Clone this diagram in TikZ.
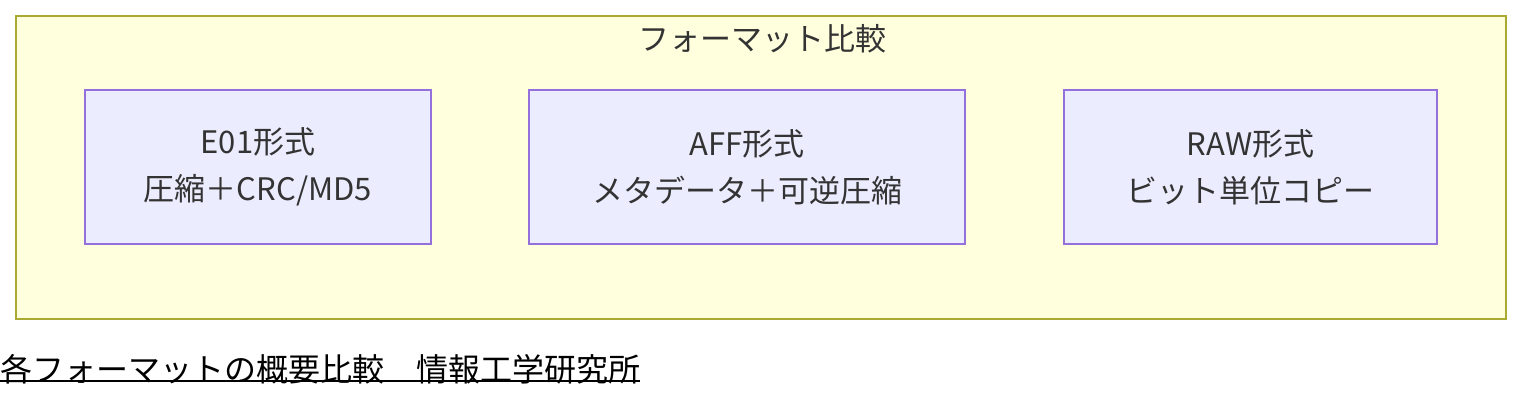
\documentclass[tikz,border=0pt]{standalone}
\usepackage{fontspec}
\setmainfont{Noto Sans CJK JP}
\usepackage{tikz}
\definecolor{grpfill}{HTML}{FFFFDE}
\definecolor{grpline}{HTML}{AAAA33}
\definecolor{fmtfill}{HTML}{ECECFF}
\definecolor{fmtline}{HTML}{9370DB}
\definecolor{txt}{HTML}{333333}
\begin{document}
\begin{tikzpicture}[x=1pt,y=-1pt]
	\tikzstyle{group}=[rectangle,fill=grpfill,draw=grpline,line width=1.5pt,inner sep=0pt]
	\tikzstyle{fmt}=[rectangle,fill=fmtfill,draw=fmtline,line width=1.5pt,minimum height=154pt,inner sep=0pt,align=center,text=txt,font=\fontsize{31}{47}\selectfont]
	\useasboundingbox (0,0) rectangle (1538,402);
	\node[group,minimum width=1490pt,minimum height=303pt](cmp) at (761,167.5){};
	\node[text=txt,font=\fontsize{31}{36}\selectfont](ttl) at (762,39){フォーマット比較};
	\node[fmt,minimum width=346pt](e01) at (258,167){E01形式\\圧縮＋CRC/MD5};
	\node[fmt,minimum width=436pt](aff) at (747,167){AFF形式\\メタデータ＋可逆圧縮};
	\node[fmt,minimum width=373pt](raw) at (1250.5,167){RAW形式\\ビット単位コピー};
	% caption with underline
	\node[anchor=base west,inner sep=0pt,font=\fontsize{32}{40}\selectfont](cap) at (0,381){各フォーマットの概要比較　情報工学研究所};
	\draw[line width=2pt] ([yshift=3pt]cap.south west) -- ([yshift=3pt]cap.south east);
\end{tikzpicture}
\end{document}
